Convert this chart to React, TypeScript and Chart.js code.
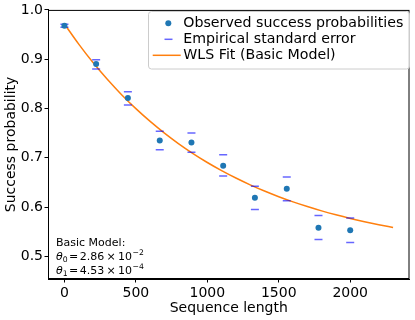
import React, { useEffect, useRef } from 'react';
import { Chart, registerables } from 'chart.js';

Chart.register(...registerables);

const seqLengths = [0, 222, 444, 667, 889, 1111, 1333, 1556, 1778, 2000];
const observed = [0.968, 0.890, 0.821, 0.735, 0.731, 0.684, 0.619, 0.637, 0.558, 0.553];
const seUpper = [0.971, 0.899, 0.834, 0.754, 0.750, 0.706, 0.642, 0.661, 0.583, 0.578];
const seLower = [0.965, 0.880, 0.807, 0.716, 0.711, 0.663, 0.595, 0.613, 0.534, 0.528];

const fitLengths = [0, 100, 200, 300, 400, 500, 600, 700, 800, 900, 1000, 1100, 1200, 1300, 1400, 1500, 1600, 1700, 1800, 1900, 2000, 2100, 2200, 2300];
const fitValues = [0.9714, 0.9306, 0.8932, 0.8592, 0.8280, 0.7996, 0.7737, 0.7500, 0.7283, 0.7085, 0.6904, 0.6739, 0.6589, 0.6451, 0.6325, 0.6210, 0.6105, 0.6010, 0.5922, 0.5842, 0.5769, 0.5703, 0.5642, 0.5586];

const xTicks = [0, 500, 1000, 1500, 2000];
const yTicks = [0.5, 0.6, 0.7, 0.8, 0.9, 1.0];

const legendLabels = ['Observed success probabilities', 'Empirical standard error', 'WLS Fit (Basic Model)'];
const xTitle = 'Sequence length';
const yTitle = 'Success probability';

const FONT = '"DejaVu Sans"';
const BLUE = '#1f77b4';
const ORANGE = '#ff7f0e';
const ERR = 'rgba(0,0,255,0.6)';

function drawMathLine(ctx: CanvasRenderingContext2D, x: number, y: number, sub: string, mant: string, exp: string) {
  const base = 11;
  const small = 7.7;
  let cx = x;
  ctx.font = `italic ${base}px ${FONT}`;
  ctx.fillText('θ', cx, y);
  cx += ctx.measureText('θ').width;
  ctx.font = `${small}px ${FONT}`;
  ctx.fillText(sub, cx, y + 2.5);
  cx += ctx.measureText(sub).width + 1.5;
  ctx.font = `${base}px ${FONT}`;
  ctx.fillText('=', cx, y);
  cx += ctx.measureText('=').width + 1.5;
  ctx.fillText(mant, cx, y);
  cx += ctx.measureText(mant).width + 2.2;
  ctx.fillText('×', cx, y);
  cx += ctx.measureText('×').width + 2.2;
  ctx.fillText('10', cx, y);
  cx += ctx.measureText('10').width + 0.5;
  ctx.font = `${small}px ${FONT}`;
  ctx.fillText(exp, cx, y - 4.5);
}

const decorPlugin = {
  id: 'decor',
  afterDatasetsDraw(chart: any) {
    const { ctx, chartArea } = chart;
    const { left, right, top, bottom } = chartArea;
    ctx.save();
    // frame
    ctx.strokeStyle = '#000';
    ctx.lineWidth = 1;
    ctx.strokeRect(left + 0.5, top + 0.5, right - left - 1, bottom - top - 1);

    // legend
    const lx = 148.5, ly = 11.5, lw = 261, lh = 57.5, r = 3;
    ctx.beginPath();
    ctx.moveTo(lx + r, ly);
    ctx.lineTo(lx + lw - r, ly);
    ctx.arcTo(lx + lw, ly, lx + lw, ly + r, r);
    ctx.lineTo(lx + lw, ly + lh - r);
    ctx.arcTo(lx + lw, ly + lh, lx + lw - r, ly + lh, r);
    ctx.lineTo(lx + r, ly + lh);
    ctx.arcTo(lx, ly + lh, lx, ly + lh - r, r);
    ctx.lineTo(lx, ly + r);
    ctx.arcTo(lx, ly, lx + r, ly, r);
    ctx.closePath();
    ctx.fillStyle = 'rgba(255,255,255,0.8)';
    ctx.fill();
    ctx.strokeStyle = '#cccccc';
    ctx.lineWidth = 1;
    ctx.stroke();

    const rows = [23.3, 39.3, 55.3];
    ctx.fillStyle = BLUE;
    ctx.beginPath();
    ctx.arc(168.3, rows[0], 3, 0, Math.PI * 2);
    ctx.fill();
    ctx.strokeStyle = ERR;
    ctx.lineWidth = 1.5;
    ctx.beginPath();
    ctx.moveTo(164.5, rows[1]);
    ctx.lineTo(172.5, rows[1]);
    ctx.stroke();
    ctx.strokeStyle = ORANGE;
    ctx.lineWidth = 1.5;
    ctx.beginPath();
    ctx.moveTo(152.7, rows[2]);
    ctx.lineTo(180.7, rows[2]);
    ctx.stroke();

    ctx.fillStyle = '#000';
    ctx.font = `14.2px ${FONT}`;
    ctx.textBaseline = 'middle';
    ctx.textAlign = 'left';
    legendLabels.forEach((t, i) => ctx.fillText(t, 183.3, rows[i] + 0.5));

    // annotation
    ctx.textBaseline = 'alphabetic';
    ctx.font = `11px ${FONT}`;
    ctx.fillText('Basic Model:', 56, 245.5);
    drawMathLine(ctx, 56, 259.5, '0', '2.86', '−2');
    drawMathLine(ctx, 56, 273.5, '1', '4.53', '−4');

    // axis titles
    ctx.font = `14px ${FONT}`;
    ctx.textAlign = 'center';
    ctx.fillText(xTitle, (left + right) / 2, 312);
    ctx.save();
    ctx.translate(15, (top + bottom) / 2);
    ctx.rotate(-Math.PI / 2);
    ctx.fillText(yTitle, 0, 0);
    ctx.restore();
    ctx.restore();
  },
};

export default function App() {
  const ref = useRef<HTMLCanvasElement>(null);
  useEffect(() => {
    document.body.style.margin = '0';
    const canvas = ref.current!;
    const chart = new Chart(canvas, {
      type: 'scatter',
      data: {
        datasets: [
          {
            label: legendLabels[0],
            data: seqLengths.map((x, i) => ({ x, y: observed[i] })),
            backgroundColor: BLUE,
            borderWidth: 0,
            pointRadius: 3,
            order: 0,
          },
          {
            label: legendLabels[1],
            data: seqLengths.map((x, i) => ({ x, y: seUpper[i] })),
            pointStyle: 'line',
            pointRadius: 4,
            borderColor: ERR,
            borderWidth: 1.5,
            order: 1,
          },
          {
            label: legendLabels[1] + ' (lower)',
            data: seqLengths.map((x, i) => ({ x, y: seLower[i] })),
            pointStyle: 'line',
            pointRadius: 4,
            borderColor: ERR,
            borderWidth: 1.5,
            order: 1,
          },
          {
            type: 'line',
            label: legendLabels[2],
            data: fitLengths.map((x, i) => ({ x, y: fitValues[i] })),
            borderColor: ORANGE,
            borderWidth: 1.5,
            pointRadius: 0,
            cubicInterpolationMode: 'monotone',
            fill: false,
            order: 2,
          } as any,
        ],
      },
      options: {
        animation: false,
        responsive: false,
        maintainAspectRatio: false,
        events: [],
        layout: { padding: { left: 0, top: 8, right: 3, bottom: 0 } },
        plugins: { legend: { display: false }, tooltip: { enabled: false } },
        scales: {
          x: {
            type: 'linear',
            min: -115,
            max: 2415,
            afterFit: (s: any) => { s.height = 41; },
            afterBuildTicks: (s: any) => { s.ticks = xTicks.map((v) => ({ value: v })); },
            ticks: {
              color: '#000',
              font: { family: FONT, size: 14 },
              padding: 2.5,
              maxRotation: 0,
              callback: (v: any) => String(v),
            },
            grid: { display: true, drawOnChartArea: false, drawTicks: true, tickLength: 3.5, color: '#000', tickWidth: 1 },
            border: { display: true, color: '#000', width: 1 },
          },
          y: {
            type: 'linear',
            min: 0.454,
            max: 1.0,
            afterFit: (s: any) => { s.width = 48; },
            afterBuildTicks: (s: any) => { s.ticks = yTicks.map((v) => ({ value: v })); },
            ticks: {
              color: '#000',
              font: { family: FONT, size: 14 },
              padding: 1.5,
              callback: (v: any) => Number(v).toFixed(1),
            },
            grid: { display: true, drawOnChartArea: false, drawTicks: true, tickLength: 3.5, color: '#000', tickWidth: 1 },
            border: { display: true, color: '#000', width: 1 },
          },
        },
      },
      plugins: [decorPlugin],
    });
    return () => chart.destroy();
  }, []);
  return (
    <div style={{ width: 415, height: 320 }}>
      <canvas ref={ref} width={415} height={320} style={{ display: 'block', width: 415, height: 320 }} />
    </div>
  );
}
